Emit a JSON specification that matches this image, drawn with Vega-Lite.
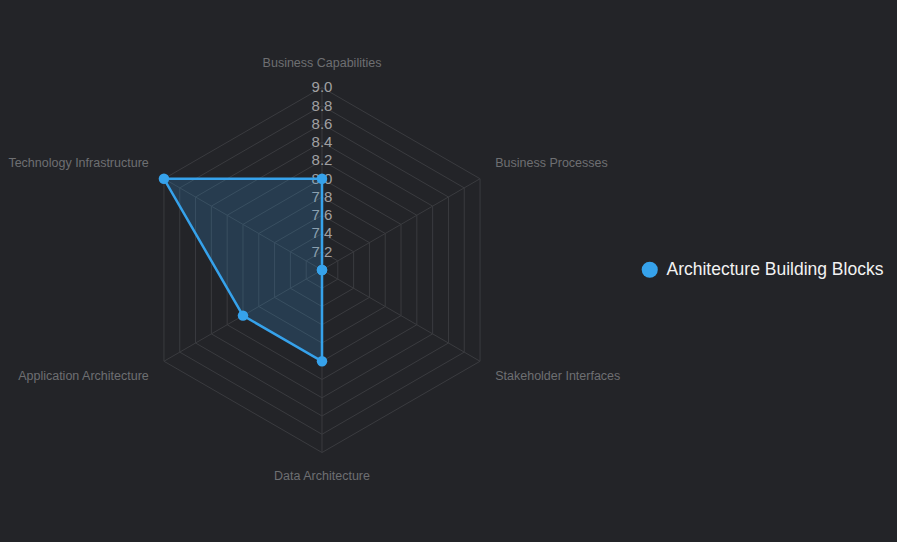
{
  "$schema": "https://vega.github.io/schema/vega-lite/v6.json",
  "width": 897,
  "height": 542,
  "padding": 0,
  "autosize": {"type": "none"},
  "background": "#232428",
  "config": {"view": {"stroke": null}, "font": "Liberation Sans"},
  "datasets": {
    "scores": [
      {"axis": "Business Capabilities", "idx": 0, "value": 8.0, "series": "Architecture Building Blocks"},
      {"axis": "Business Processes", "idx": 1, "value": 7.0, "series": "Architecture Building Blocks"},
      {"axis": "Stakeholder Interfaces", "idx": 2, "value": 7.0, "series": "Architecture Building Blocks"},
      {"axis": "Data Architecture", "idx": 3, "value": 8.0, "series": "Architecture Building Blocks"},
      {"axis": "Application Architecture", "idx": 4, "value": 8.0, "series": "Architecture Building Blocks"},
      {"axis": "Technology Infrastructure", "idx": 5, "value": 9.0, "series": "Architecture Building Blocks"}
    ],
    "axes": [
      {"axis": "Business Capabilities", "idx": 0, "levels": [7.2, 7.4, 7.6, 7.8, 8.0, 8.2, 8.4, 8.6, 8.8, 9.0]},
      {"axis": "Business Processes", "idx": 1, "levels": [7.2, 7.4, 7.6, 7.8, 8.0, 8.2, 8.4, 8.6, 8.8, 9.0]},
      {"axis": "Stakeholder Interfaces", "idx": 2, "levels": [7.2, 7.4, 7.6, 7.8, 8.0, 8.2, 8.4, 8.6, 8.8, 9.0]},
      {"axis": "Data Architecture", "idx": 3, "levels": [7.2, 7.4, 7.6, 7.8, 8.0, 8.2, 8.4, 8.6, 8.8, 9.0]},
      {"axis": "Application Architecture", "idx": 4, "levels": [7.2, 7.4, 7.6, 7.8, 8.0, 8.2, 8.4, 8.6, 8.8, 9.0]},
      {"axis": "Technology Infrastructure", "idx": 5, "levels": [7.2, 7.4, 7.6, 7.8, 8.0, 8.2, 8.4, 8.6, 8.8, 9.0]}
    ],
    "ticks": [
      {"level": 7.2}, {"level": 7.4}, {"level": 7.6}, {"level": 7.8}, {"level": 8.0},
      {"level": 8.2}, {"level": 8.4}, {"level": 8.6}, {"level": 8.8}, {"level": 9.0}
    ]
  },
  "encoding": {
    "x": {"field": "px", "type": "quantitative", "axis": null, "scale": {"domain": [-1.76438, 3.15068], "nice": false, "zero": false}},
    "y": {"field": "py", "type": "quantitative", "axis": null, "scale": {"domain": [-1.49041, 1.47945], "nice": false, "zero": false}}
  },
  "layer": [
    {
      "data": {"name": "axes"},
      "transform": [
        {"flatten": ["levels"], "as": ["level"]},
        {"calculate": "(datum.level - 7) / 2", "as": "r"},
        {"calculate": "datum.r * sin(datum.idx * PI / 3)", "as": "px"},
        {"calculate": "datum.r * cos(datum.idx * PI / 3)", "as": "py"}
      ],
      "mark": {"type": "line", "interpolate": "linear-closed", "stroke": "#3a3b3f", "strokeWidth": 1},
      "encoding": {"detail": {"field": "level", "type": "nominal"}, "order": {"field": "idx", "type": "quantitative"}}
    },
    {
      "data": {"name": "axes"},
      "transform": [
        {"calculate": "sin(datum.idx * PI / 3)", "as": "px"},
        {"calculate": "cos(datum.idx * PI / 3)", "as": "py"}
      ],
      "mark": {"type": "rule", "stroke": "#3a3b3f", "strokeWidth": 1},
      "encoding": {"x2": {"datum": 0}, "y2": {"datum": 0}}
    },
    {
      "data": {"name": "ticks"},
      "transform": [
        {"calculate": "0", "as": "px"},
        {"calculate": "(datum.level - 7) / 2", "as": "py"}
      ],
      "mark": {"type": "text", "align": "center", "baseline": "middle", "fontSize": 15, "color": "#a0a0a2", "font": "Liberation Sans"},
      "encoding": {"text": {"field": "level", "type": "quantitative", "format": ".1f"}}
    },
    {
      "data": {"name": "scores"},
      "transform": [
        {"calculate": "(datum.value - 7) / 2", "as": "r"},
        {"calculate": "datum.r * sin(datum.idx * PI / 3)", "as": "px"},
        {"calculate": "datum.r * cos(datum.idx * PI / 3)", "as": "py"}
      ],
      "mark": {"type": "line", "interpolate": "linear-closed", "stroke": "#36a2eb", "strokeWidth": 2.5, "fill": "#36a2eb", "fillOpacity": 0.2},
      "encoding": {"order": {"field": "idx", "type": "quantitative"}}
    },
    {
      "data": {"name": "scores"},
      "transform": [
        {"calculate": "(datum.value - 7) / 2", "as": "r"},
        {"calculate": "datum.r * sin(datum.idx * PI / 3)", "as": "px"},
        {"calculate": "datum.r * cos(datum.idx * PI / 3)", "as": "py"}
      ],
      "mark": {"type": "point", "filled": true, "size": 110, "opacity": 1, "shape": "circle"},
      "encoding": {
        "color": {
          "field": "series", "type": "nominal",
          "scale": {"range": ["#36a2eb"]},
          "legend": {
            "orient": "none", "legendX": 641, "legendY": 261, "title": null,
            "symbolType": "circle", "symbolSize": 260, "symbolStrokeWidth": 0, "symbolOpacity": 1,
            "labelColor": "#f2f2f2", "labelFontSize": 17.5, "labelFont": "Liberation Sans", "labelOffset": 8, "labelLimit": 0
          }
        }
      }
    },
    {
      "data": {"name": "axes"},
      "transform": [
        {"calculate": "1.096 * sin(datum.idx * PI / 3)", "as": "px"},
        {"calculate": "1.096 * cos(datum.idx * PI / 3)", "as": "py"}
      ],
      "encoding": {"text": {"field": "axis", "type": "nominal"}},
      "layer": [
        {"transform": [{"filter": "datum.idx == 0"}], "mark": {"type": "text", "align": "center", "baseline": "bottom", "fontSize": 12.5, "color": "#6e6f72", "font": "Liberation Sans"}},
        {"transform": [{"filter": "datum.idx == 3"}], "mark": {"type": "text", "align": "center", "baseline": "top", "fontSize": 12.5, "color": "#6e6f72", "font": "Liberation Sans"}},
        {"transform": [{"filter": "datum.idx == 1"}], "mark": {"type": "text", "align": "left", "baseline": "bottom", "fontSize": 12.5, "color": "#6e6f72", "font": "Liberation Sans"}},
        {"transform": [{"filter": "datum.idx == 2"}], "mark": {"type": "text", "align": "left", "baseline": "top", "fontSize": 12.5, "color": "#6e6f72", "font": "Liberation Sans"}},
        {"transform": [{"filter": "datum.idx == 5"}], "mark": {"type": "text", "align": "right", "baseline": "bottom", "fontSize": 12.5, "color": "#6e6f72", "font": "Liberation Sans"}},
        {"transform": [{"filter": "datum.idx == 4"}], "mark": {"type": "text", "align": "right", "baseline": "top", "fontSize": 12.5, "color": "#6e6f72", "font": "Liberation Sans"}}
      ]
    }
  ]
}
